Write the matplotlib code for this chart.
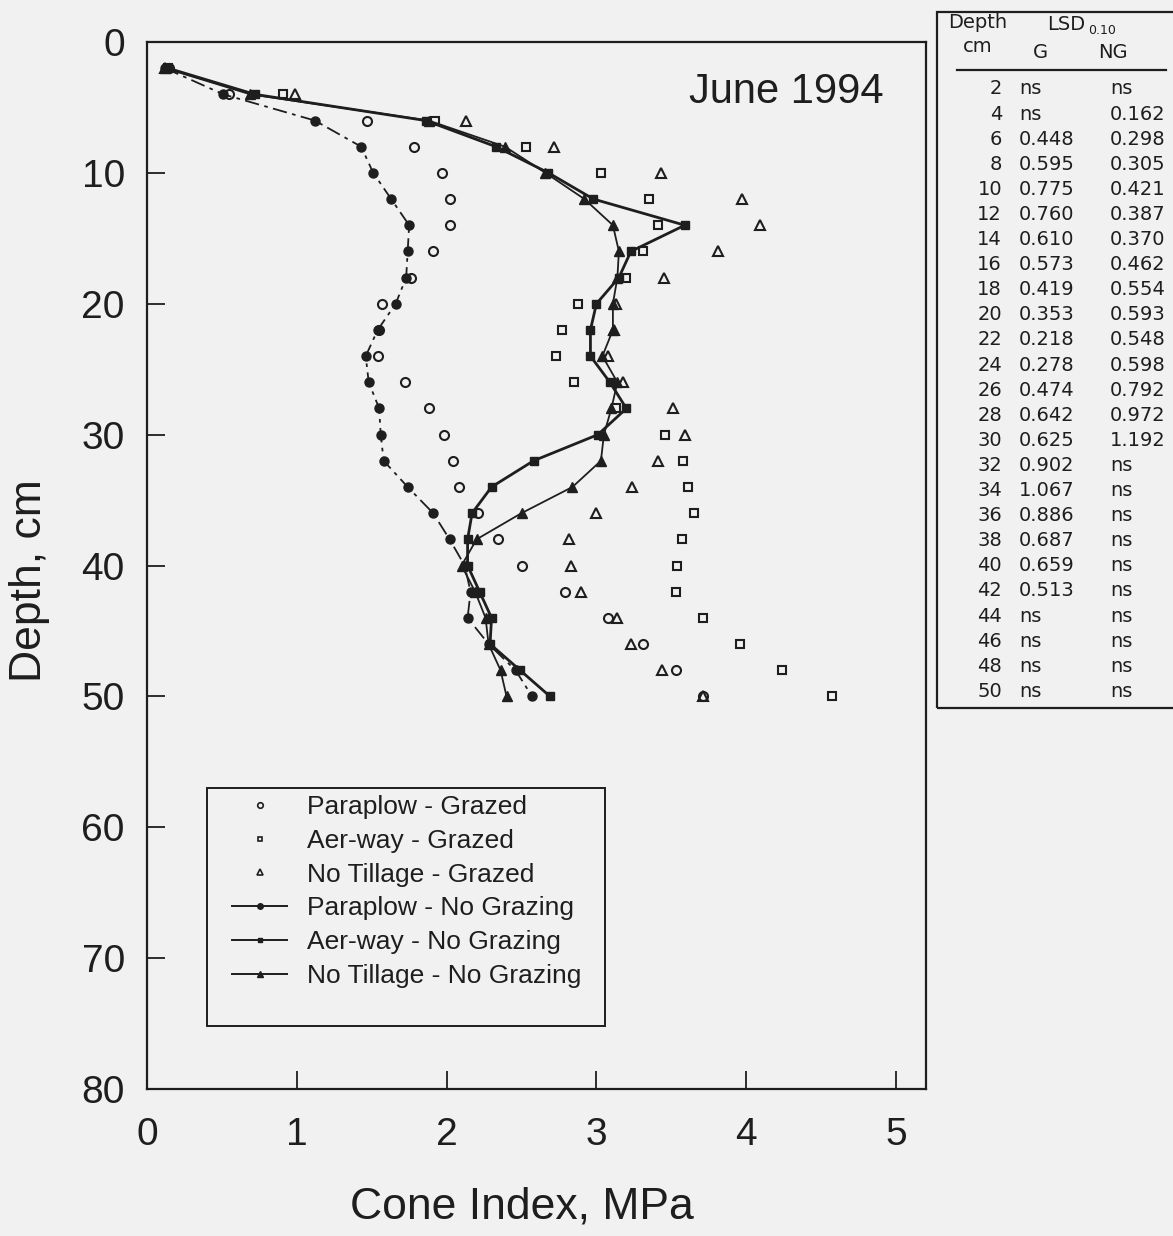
import matplotlib
matplotlib.use("Agg")
import matplotlib.pyplot as plt
from matplotlib.patches import Rectangle
from matplotlib.lines import Line2D

# ---------------- data ----------------
depth = [2, 4, 6, 8, 10, 12, 14, 16, 18, 20, 22, 24, 26, 28, 30,
         32, 34, 36, 38, 40, 42, 44, 46, 48, 50]

paraplow_g = [0.15, 0.55, 1.47, 1.78, 1.97, 2.02, 2.02, 1.91, 1.76, 1.57, 1.55, 1.54, 1.72,
              1.88, 1.98, 2.04, 2.08, 2.21, 2.34, 2.50, 2.79, 3.08, 3.31, 3.53, 3.71]
aerway_g = [0.14, 0.91, 1.92, 2.53, 3.03, 3.35, 3.41, 3.31, 3.20, 2.88, 2.77, 2.73, 2.85,
            3.13, 3.46, 3.58, 3.61, 3.65, 3.57, 3.54, 3.53, 3.71, 3.96, 4.24, 4.57]
notill_g = [0.12, 0.99, 2.13, 2.72, 3.43, 3.97, 4.09, 3.81, 3.45, 3.13, 3.12, 3.08, 3.18,
            3.51, 3.59, 3.41, 3.24, 3.00, 2.82, 2.83, 2.90, 3.14, 3.23, 3.44, 3.71]

paraplow_ng = [0.12, 0.51, 1.12, 1.43, 1.51, 1.63, 1.75, 1.74, 1.73, 1.66, 1.54, 1.46, 1.48,
               1.55, 1.56, 1.58, 1.74, 1.91, 2.02, 2.12, 2.16, 2.14, 2.28, 2.46, 2.57]
aerway_ng = [0.14, 0.72, 1.86, 2.33, 2.68, 2.98, 3.59, 3.23, 3.15, 3.00, 2.96, 2.96, 3.09,
             3.20, 3.01, 2.58, 2.30, 2.17, 2.14, 2.14, 2.22, 2.30, 2.29, 2.49, 2.69]
notill_ng = [0.12, 0.69, 1.88, 2.39, 2.66, 2.92, 3.11, 3.15, 3.14, 3.11, 3.11, 3.04, 3.14,
             3.10, 3.05, 3.03, 2.84, 2.50, 2.20, 2.10, 2.19, 2.26, 2.28, 2.36, 2.40]

labels = ["Paraplow - Grazed", "Aer-way - Grazed", "No Tillage - Grazed",
          "Paraplow - No Grazing", "Aer-way - No Grazing", "No Tillage - No Grazing"]

xticks = [0, 1, 2, 3, 4, 5]
yticks = [0, 10, 20, 30, 40, 50, 60, 70, 80]

# LSD table
lsd_depth = ["2", "4", "6", "8", "10", "12", "14", "16", "18", "20", "22", "24", "26",
             "28", "30", "32", "34", "36", "38", "40", "42", "44", "46", "48", "50"]
lsd_g = ["ns", "ns", "0.448", "0.595", "0.775", "0.760", "0.610", "0.573", "0.419", "0.353",
         "0.218", "0.278", "0.474", "0.642", "0.625", "0.902", "1.067", "0.886", "0.687",
         "0.659", "0.513", "ns", "ns", "ns", "ns"]
lsd_ng = ["ns", "0.162", "0.298", "0.305", "0.421", "0.387", "0.370", "0.462", "0.554",
          "0.593", "0.548", "0.598", "0.792", "0.972", "1.192", "ns", "ns", "ns", "ns",
          "ns", "ns", "ns", "ns", "ns", "ns"]

# ---------------- figure ----------------
W, H = 1173, 1236
BG = "#f1f1f1"
INK = "#1e1e1e"
plt.rcParams["font.family"] = ["Liberation Sans", "DejaVu Sans"]

fig = plt.figure(figsize=(W / 100, H / 100), dpi=100, facecolor=BG)


def fx(px):
    return px / W


def fy(py):
    return 1 - py / H


ax_l, ax_r, ax_t, ax_b = 147, 926, 42, 1089
ax = fig.add_axes([fx(ax_l), fy(ax_b), fx(ax_r) - fx(ax_l), fy(ax_t) - fy(ax_b)])
ax.set_facecolor(BG)
ax.set_xlim(0, 5.2)
ax.set_ylim(80, 0)

ms = 6.5
# grazed: open markers, no lines
ax.plot(paraplow_g, depth, ls="none", marker="o", ms=ms, mfc="none", mec=INK, mew=1.5)
ax.plot(aerway_g, depth, ls="none", marker="s", ms=ms - 0.5, mfc="none", mec=INK, mew=1.5)
ax.plot(notill_g, depth, ls="none", marker="^", ms=ms, mfc="none", mec=INK, mew=1.5)
# no grazing: lines + filled markers
ax.plot(paraplow_ng, depth, ls=(0, (8, 3, 2, 3)), lw=1.3, color=INK, marker="o", ms=ms, mfc=INK, mec=INK)
ax.plot(aerway_ng, depth, ls="-", lw=2.0, color=INK, marker="s", ms=ms - 0.5, mfc=INK, mec=INK)
ax.plot(notill_ng, depth, ls="-", lw=1.3, color=INK, marker="^", ms=ms, mfc=INK, mec=INK)

ax.set_xticks(xticks)
ax.set_yticks(yticks)
ax.set_xticklabels([str(v) for v in xticks])
ax.set_yticklabels([str(v) for v in yticks])
ax.tick_params(axis="both", direction="in", length=13, width=1.3, colors=INK,
               labelsize=28, labelcolor=INK)
ax.tick_params(axis="x", pad=20)
ax.tick_params(axis="y", pad=16)
for s in ax.spines.values():
    s.set_color(INK)
    s.set_linewidth(1.6)

ax.set_xlabel("Cone Index, MPa", fontsize=32, color=INK)
ax.set_ylabel("Depth, cm", fontsize=32, color=INK)
ax.xaxis.set_label_coords(0.481, -0.093)
ax.yaxis.set_label_coords(-0.124, 0.486)

ax.text(0.945, 0.952, "June 1994", transform=ax.transAxes, ha="right", va="center",
        fontsize=30, color=INK)

# legend
handles = [
    Line2D([], [], ls="none", marker="o", ms=4, mfc="none", mec=INK, mew=1.2),
    Line2D([], [], ls="none", marker="s", ms=3.5, mfc="none", mec=INK, mew=1.2),
    Line2D([], [], ls="none", marker="^", ms=4, mfc="none", mec=INK, mew=1.2),
    Line2D([], [], ls="-", lw=1.4, color=INK, marker="o", ms=4, mfc=INK),
    Line2D([], [], ls="-", lw=1.4, color=INK, marker="s", ms=3.5, mfc=INK),
    Line2D([], [], ls="-", lw=1.4, color=INK, marker="^", ms=4, mfc=INK),
]
leg = ax.legend(handles, labels, loc="upper left",
                bbox_to_anchor=((232 - ax_l) / (ax_r - ax_l), (ax_b - 795) / (ax_b - ax_t)),
                frameon=False, fontsize=19, handlelength=2.1, handletextpad=0.75,
                labelspacing=0.37, borderaxespad=0, borderpad=0)
for t in leg.get_texts():
    t.set_color(INK)
ax.add_patch(Rectangle(((207 - ax_l) / (ax_r - ax_l), (ax_b - 1026) / (ax_b - ax_t)),
                       (605 - 207) / (ax_r - ax_l), (1026 - 788) / (ax_b - ax_t),
                       transform=ax.transAxes, fill=False, ec=INK, lw=1.4, zorder=5))

# LSD table (figure coordinates)
fig.patches.append(Rectangle((fx(937), fy(708)), fx(1190) - fx(937), fy(12) - fy(708),
                             transform=fig.transFigure, fill=False, ec=INK, lw=1.6))
tf = dict(color=INK, family=["DejaVu Sans"])
fig.text(fx(978), fy(23), "Depth", ha="center", va="center", fontsize=14, **tf)
fig.text(fx(978), fy(47), "cm", ha="center", va="center", fontsize=14, **tf)
fig.text(fx(1066), fy(24), "LSD", ha="center", va="center", fontsize=14, **tf)
fig.text(fx(1088), fy(31), "0.10", ha="left", va="center", fontsize=9, **tf)
fig.text(fx(1040), fy(53), "G", ha="center", va="center", fontsize=14, **tf)
fig.text(fx(1113), fy(53), "NG", ha="center", va="center", fontsize=14, **tf)
fig.add_artist(Line2D([fx(957), fx(1166)], [fy(70), fy(70)], transform=fig.transFigure,
                      color=INK, lw=1.6))
row0, dy = 89, 25.1
for i in range(len(lsd_depth)):
    yy = fy(row0 + i * dy)
    fig.text(fx(1002), yy, lsd_depth[i], ha="right", va="center", fontsize=14, **tf)
    fig.text(fx(1019), yy, lsd_g[i], ha="left", va="center", fontsize=14, **tf)
    fig.text(fx(1110), yy, lsd_ng[i], ha="left", va="center", fontsize=14, **tf)

fig.savefig("out.png", dpi=100, facecolor=BG)
